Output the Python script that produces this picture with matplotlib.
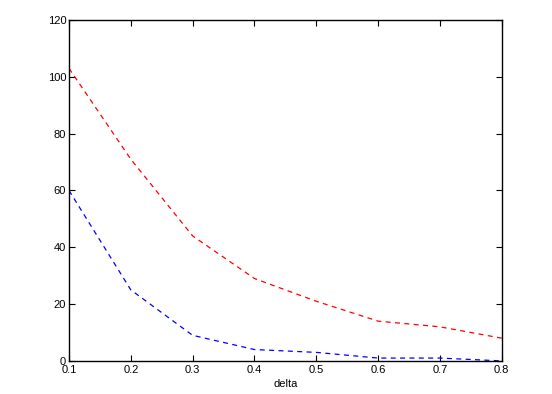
import matplotlib
matplotlib.use("Agg")
import matplotlib.pyplot as plt

# values
delta = [0.1, 0.2, 0.3, 0.4, 0.5, 0.6, 0.7, 0.8]
red_vals = [103, 71, 44, 29, 21, 14, 12, 8]
blue_vals = [60, 25, 9, 4, 3, 1, 1, 0]
xticks = [0.1, 0.2, 0.3, 0.4, 0.5, 0.6, 0.7, 0.8]
yticks = [0, 20, 40, 60, 80, 100, 120]

plt.rcParams['font.family'] = ['Liberation Sans', 'DejaVu Sans']

fig = plt.figure(figsize=(5.52, 3.94), dpi=100)
ax = fig.add_axes([0.125, 0.084, 0.784, 0.865])

ax.plot(delta, red_vals, color='red', linestyle='--', linewidth=0.9, dashes=(4, 3.5))
ax.plot(delta, blue_vals, color='blue', linestyle='--', linewidth=0.9, dashes=(4, 3.5))

ax.set_xlim(0.1, 0.8)
ax.set_ylim(0, 120)
ax.set_xticks(xticks)
ax.set_xticklabels([f"{t:.1f}" for t in xticks])
ax.set_yticks(yticks)
ax.tick_params(direction='in', top=True, right=True, length=4, width=0.8,
               labelsize=8, pad=2)
ax.tick_params(axis='x', pad=3)
for s in ax.spines.values():
    s.set_linewidth(1.0)

ax.set_xlabel('delta', fontsize=8, labelpad=3)

fig.savefig('out.png', dpi=100)
